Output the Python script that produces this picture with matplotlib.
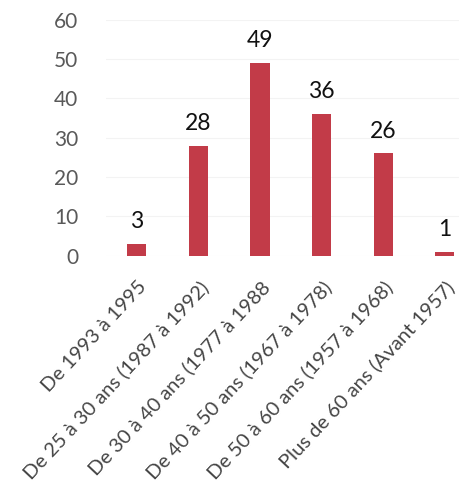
import matplotlib.pyplot as plt

# données
categories = ["De 1993 à 1995",
              "De 25 à 30 ans (1987 à 1992)",
              "De 30 à 40 ans (1977 à 1988",
              "De 40 à 50 ans (1967 à 1978)",
              "De 50 à 60 ans (1957 à 1968)",
              "Plus de 60 ans (Avant 1957)"]
valeurs = [3, 28, 49, 36, 26, 1]
y_ticks = [0, 10, 20, 30, 40, 50, 60]

plt.rcParams['font.family'] = ['Lato', 'DejaVu Sans']

fig = plt.figure(figsize=(4.59, 4.91), dpi=100)
ax = fig.add_axes([0.231, 0.479, 0.805, 0.481])

x = range(len(categories))
ax.bar(x, valeurs, width=0.31, color='#c23b48')

for i, v in zip(x, valeurs):
    ax.text(i, v + 3, str(v), ha='center', va='bottom', fontsize=16.5, color='#111111')

ax.set_xlim(-0.5, 5.5)
ax.set_ylim(0, 60)
ax.set_yticks(y_ticks)
ax.set_yticklabels([str(t) for t in y_ticks], fontsize=15, color='#595959')
ax.set_xticks(list(x))
ax.set_xticklabels(categories, rotation=47, ha='right', rotation_mode='anchor',
                   fontsize=14.5, color='#454545')
ax.tick_params(length=0, axis='both')
ax.tick_params(axis='y', pad=20)
ax.tick_params(axis='x', pad=16)
ax.grid(axis='y', color='#f3f3f3', linewidth=0.8)
ax.set_axisbelow(True)
for s in ax.spines.values():
    s.set_visible(False)

fig.savefig('out.png', dpi=100)
